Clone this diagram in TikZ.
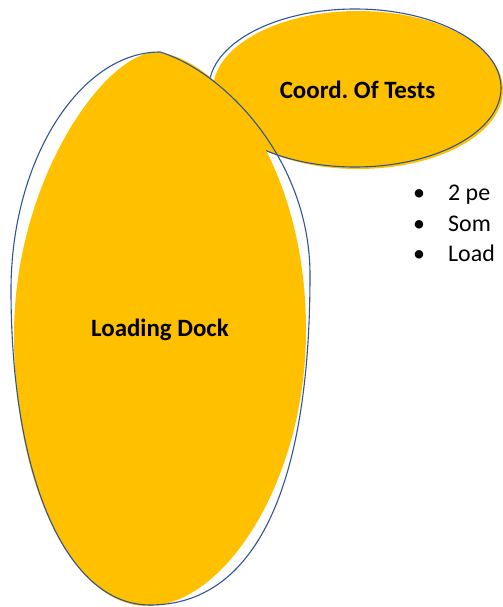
\documentclass[tikz,border=0pt]{standalone}
\usepackage{fontspec}
\setmainfont{Carlito}
\definecolor{gold}{HTML}{FFC000}
\definecolor{edge}{HTML}{2F5597}
\begin{document}
\begin{tikzpicture}[x=1bp,y=-1bp,
  blobfill/.style={fill=gold,draw=none},
  blobline/.style={draw=edge,line width=1.1bp},
  title/.style={font=\fontsize{25}{30}\selectfont\bfseries\frenchspacing,inner sep=0pt,anchor=base},
  bulletmark/.style={font=\fontsize{24}{29}\selectfont,inner sep=0pt,anchor=base},
  bullettext/.style={font=\fontsize{24}{29}\selectfont,inner sep=0pt,anchor=base west}]
\useasboundingbox (0,0) rectangle (503,607);
\clip (0,0) rectangle (503,607);
% small oval: fill, then its slightly offset outline
\path[blobfill] (358,90) ellipse [x radius=145, y radius=79];
\draw[blobline] (355,88) ellipse [x radius=146, y radius=79];
% tall oval fill, narrowing towards the top
\path[blobfill] (157,52)
  .. controls (105,52) and (14,180) .. (14,335)
  .. controls (14,490) and (75,606) .. (147,606)
  .. controls (225,606) and (306,480) .. (306,330)
  .. controls (306,170) and (225,60) .. (157,52) -- cycle;
% tall oval outline, with its point at the top
\draw[blobline] (160,52)
  .. controls (80,52) and (11,160) .. (11,290)
  .. controls (11,479) and (67,605) .. (150,605)
  .. controls (254,605) and (310,490) .. (310,275)
  .. controls (310,160) and (225,72) .. (160,52) -- cycle;
% labels
\node[title] (coord) at (357.5,98.3) {Coord. Of Tests};
\node[title] (dock) at (160,336.7) {Loading Dock};
% bullet list, running off the right edge
\node[bulletmark] (b1) at (419,200) {•};
\node[bullettext] (t1) at (448,200) {2 pe};
\node[bulletmark] (b2) at (419,231.7) {•};
\node[bullettext] (t2) at (448,231.7) {Som};
\node[bulletmark] (b3) at (419,261.7) {•};
\node[bullettext] (t3) at (448,261.7) {Load};
\end{tikzpicture}
\end{document}
